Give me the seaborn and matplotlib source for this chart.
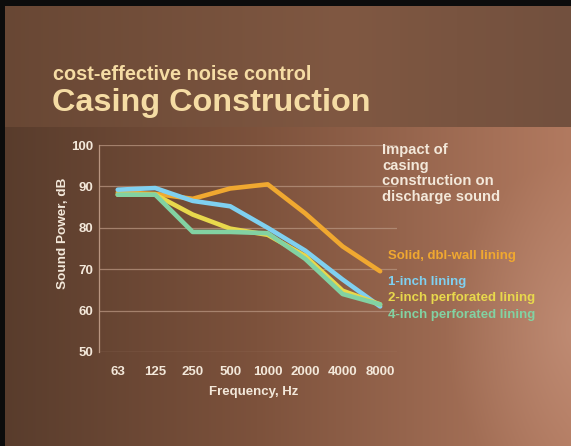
import numpy as np
import pandas as pd
import matplotlib
matplotlib.use("Agg")
import matplotlib.pyplot as plt
import seaborn as sns

frequencies = ["63", "125", "250", "500", "1000", "2000", "4000", "8000"]
solid_dbl_wall = [88.5, 88.2, 87.0, 89.5, 90.5, 83.5, 75.5, 69.5]
one_inch = [89.2, 89.6, 86.5, 85.2, 80.0, 74.5, 67.5, 61.0]
two_inch_perf = [88.0, 88.0, 83.2, 79.8, 78.3, 73.2, 64.8, 61.5]
four_inch_perf = [88.0, 88.0, 79.0, 79.0, 78.7, 72.5, 64.0, 61.5]
series_names = ["Solid, dbl-wall lining", "1-inch lining",
                "2-inch perforated lining", "4-inch perforated lining"]
series_values = [solid_dbl_wall, one_inch, two_inch_perf, four_inch_perf]
series_colors = ["#f0a830", "#7fd0f0", "#e8d84c", "#82d2a2"]

rows = []
for name, vals in zip(series_names, series_values):
    for i, (f, v) in enumerate(zip(frequencies, vals)):
        rows.append({"series": name, "pos": i, "freq": f, "value": v})
df = pd.DataFrame(rows)

sns.set_theme(style="white")
plt.rcParams["font.family"] = ["Liberation Sans", "DejaVu Sans"]

fig = plt.figure(figsize=(5.71, 4.46), dpi=100)

# background
bg = fig.add_axes([0, 0, 1, 1], zorder=0)
H, W = 446, 571
yy, xx = np.mgrid[0:H, 0:W]
t = (xx / W)[..., None]
c_left = np.array([88, 60, 44]) / 255
c_mid = np.array([125, 82, 60]) / 255
c_right = np.array([178, 122, 96]) / 255
lower = np.where(t < 0.45,
                 c_left + (c_mid - c_left) * (t / 0.45),
                 c_mid + (c_right - c_mid) * ((t - 0.45) / 0.55))
r = np.sqrt(((xx - 575) / 130.0) ** 2 + ((yy - 330) / 170.0) ** 2)
glow = np.clip(1 - r, 0, 1)[..., None] * 0.35
lower = lower + glow * (np.array([215, 170, 150]) / 255 - lower)
h_left = np.array([104, 71, 52]) / 255
h_mid = np.array([128, 88, 66]) / 255
h_right = np.array([114, 80, 62]) / 255
header = np.where(t < 0.6,
                  h_left + (h_mid - h_left) * (t / 0.6),
                  h_mid + (h_right - h_mid) * ((t - 0.6) / 0.4))
img = np.where((yy < 127)[..., None], header, lower)
img[:6, :, :] = 0.05
img[:, :5, :] = 0.05
bg.imshow(np.clip(img, 0, 1), aspect="auto", extent=[0, 1, 0, 1], origin="upper")
bg.set_axis_off()

ax = fig.add_axes([99 / 571, 1 - 352 / 446, 298 / 571, 207 / 446], zorder=1)
ax.patch.set_alpha(0)
sns.lineplot(data=df, x="pos", y="value", hue="series", palette=series_colors,
             hue_order=series_names, linewidth=3.3, ax=ax, legend=False, sort=False)
ax.set_xlim(-0.5, 7.45)
ax.set_ylim(50, 100)
ax.set_yticks([50, 60, 70, 80, 90, 100])
ax.set_xticks(range(len(frequencies)))
ax.set_xticklabels(frequencies)
text_col = "#f3e8da"
ax.tick_params(axis="both", length=0, labelsize=9.5, colors=text_col)
ax.tick_params(axis="y", pad=4)
ax.tick_params(axis="x", pad=10)
for lab in ax.get_xticklabels() + ax.get_yticklabels():
    lab.set_fontweight("bold")
ax.grid(axis="y", color="#b89580", linewidth=0.9, alpha=0.75)
ax.grid(axis="x", visible=False)
for s in ["top", "right", "bottom"]:
    ax.spines[s].set_visible(False)
ax.spines["left"].set_color("#b89580")
ax.spines["left"].set_linewidth(0.9)
ax.set_xlabel("Frequency, Hz", color=text_col, fontsize=9.5, fontweight="bold")
ax.set_ylabel("Sound Power, dB", color=text_col, fontsize=9.7, fontweight="bold")
ax.xaxis.set_label_coords(0.52, -0.163)
ax.yaxis.set_label_coords(-0.102, 0.575)

title_col = "#f5dca4"
fig.text(53 / 571, 1 - 75 / 446, "cost-effective noise control", color=title_col,
         fontsize=14.3, fontweight="bold", va="center", ha="left")
fig.text(52 / 571, 1 - 103 / 446, "Casing Construction", color=title_col,
         fontsize=23.3, fontweight="bold", va="center", ha="left")

fig.text(382 / 571, 1 - 143 / 446, "Impact of\ncasing\nconstruction on\ndischarge sound",
         color=text_col, fontsize=10.6, fontweight="bold", va="top", ha="left", linespacing=1.15)

label_y = [256, 282, 298, 315]
for name, col, y in zip(series_names, series_colors, label_y):
    fig.text(388 / 571, 1 - y / 446, name, color=col, fontsize=9.5, fontweight="bold",
             va="center", ha="left")

fig.savefig("out.png", dpi=100)
